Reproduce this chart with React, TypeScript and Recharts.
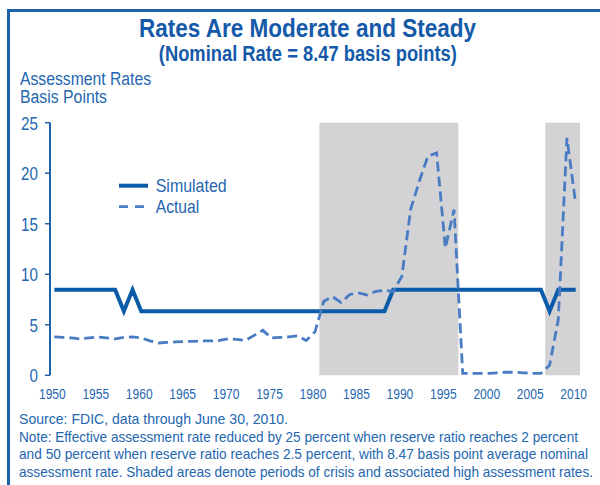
import { LineChart, Line, XAxis, YAxis, ReferenceArea } from 'recharts'

const years = [
  1950, 1951, 1952, 1953, 1954, 1955, 1956, 1957, 1958, 1959,
  1960, 1961, 1962, 1963, 1964, 1965, 1966, 1967, 1968, 1969,
  1970, 1971, 1972, 1973, 1974, 1975, 1976, 1977, 1978, 1979,
  1980, 1981, 1982, 1983, 1984, 1985, 1986, 1987, 1988, 1989,
  1990, 1991, 1992, 1993, 1994, 1995, 1996, 1997, 1998, 1999,
  2000, 2001, 2002, 2003, 2004, 2005, 2006, 2007, 2008, 2009,
  2010,
]

// basis points
const simulated = [
  8.47, 8.47, 8.47, 8.47, 8.47, 8.47, 8.47, 8.47, 6.35, 8.47,
  6.35, 6.35, 6.35, 6.35, 6.35, 6.35, 6.35, 6.35, 6.35, 6.35,
  6.35, 6.35, 6.35, 6.35, 6.35, 6.35, 6.35, 6.35, 6.35, 6.35,
  6.35, 6.35, 6.35, 6.35, 6.35, 6.35, 6.35, 6.35, 6.35, 8.47,
  8.47, 8.47, 8.47, 8.47, 8.47, 8.47, 8.47, 8.47, 8.47, 8.47,
  8.47, 8.47, 8.47, 8.47, 8.47, 8.47, 8.47, 6.35, 8.47, 8.47,
  8.47,
]

const actual = [
  3.8, 3.75, 3.7, 3.6, 3.7, 3.8, 3.7, 3.6, 3.75, 3.8,
  3.7, 3.4, 3.2, 3.25, 3.3, 3.35, 3.35, 3.4, 3.4, 3.45,
  3.6, 3.55, 3.45, 3.95, 4.45, 3.7, 3.75, 3.8, 3.9, 3.45,
  4.3, 7.3, 7.8, 7.2, 8.0, 8.15, 7.95, 8.3, 8.4, 8.3,
  9.8, 16.4, 19.2, 21.7, 22.0, 12.6, 16.4, 0.2, 0.2, 0.2,
  0.2, 0.25, 0.3, 0.3, 0.25, 0.2, 0.2, 1.0, 5.5, 23.5,
  17.0,
]

// crisis periods (inclusive years)
const crisisStart = [1981, 2007]
const crisisEnd = [1996, 2010]

const yTicks = [0, 5, 10, 15, 20, 25]
const labelYears = [1950, 1955, 1960, 1965, 1970, 1975, 1980, 1985, 1990, 1995, 2000, 2005, 2010]

const notes = [
  'Source: FDIC, data through June 30, 2010.',
  'Note: Effective assessment rate reduced by 25 percent when reserve ratio reaches 2 percent',
  'and 50 percent when reserve ratio reaches 2.5 percent, with 8.47 basis point average nominal',
  'assessment rate. Shaded areas denote periods of crisis and associated high assessment rates.',
]
const noteWidths = [269, 559, 569, 574]

const rows = years.map((year, i) => ({
  year,
  simulated: simulated[i],
  actual: actual[i],
}))
const boundaries = [...years.map((y) => y - 0.5), years[years.length - 1] + 0.5]
const xDomain = [boundaries[0], boundaries[boundaries.length - 1]]

const FONT = "'Liberation Sans', Arial, sans-serif"
const BLUE = '#1c61ab'
const TEXT = '#2466b0'
const TITLE = '#145aa8'
const SIM = '#0b5ba8'
const ACT = '#4a7cc3'

const XTick = ({ x, y, payload }: any) => (
  <g transform={`translate(${x - 2},${y}) scale(0.86,1)`}>
    <text x={0} y={0} dy="0.71em" textAnchor="middle" fill={TEXT} fontSize={14} fontFamily={FONT}>
      {payload.value}
    </text>
  </g>
)

const YTick = ({ x, y, payload }: any) => (
  <g transform={`translate(${x},${y}) scale(0.8,1)`}>
    <text x={0} y={0} dy="0.36em" textAnchor="end" fill={TEXT} fontSize={19} fontFamily={FONT}>
      {payload.value}
    </text>
  </g>
)

export default function App() {
  return (
    <div
      style={{
        position: 'absolute',
        left: 0,
        top: 0,
        width: 600,
        height: 485,
        overflow: 'hidden',
        background: '#fff',
      }}
    >
      <div
        style={{
          position: 'absolute',
          left: 7,
          top: 9,
          width: 620,
          height: 520,
          borderLeft: `3px solid ${BLUE}`,
          borderTop: `3px solid ${BLUE}`,
        }}
      />

      <LineChart
        width={600}
        height={485}
        data={rows}
        margin={{ top: 122.7, right: 20, bottom: 84.7, left: 5 }}
        style={{ position: 'absolute', left: 0, top: 0 }}
      >
        {crisisStart.map((s, i) => (
          <ReferenceArea
            key={s}
            xAxisId="b"
            x1={s - 0.5}
            x2={crisisEnd[i] + 0.5}
            y1={0}
            y2={25}
            fill="#d3d3d5"
            fillOpacity={1}
            stroke="none"
          />
        ))}
        <XAxis
          xAxisId="b"
          dataKey="year"
          type="number"
          domain={xDomain}
          ticks={boundaries}
          interval={0}
          tick={false}
          tickSize={6}
          height={0}
          axisLine={{ stroke: BLUE, strokeWidth: 2 }}
          tickLine={{ stroke: BLUE, strokeWidth: 1.5 }}
        />
        <XAxis
          xAxisId="l"
          dataKey="year"
          type="number"
          domain={xDomain}
          ticks={labelYears}
          interval={0}
          axisLine={false}
          tickLine={false}
          tickSize={0}
          tickMargin={14}
          height={25}
          tick={XTick}
        />
        <YAxis
          domain={[0, 25]}
          ticks={yTicks}
          interval={0}
          width={45}
          tickSize={5}
          tickMargin={7}
          axisLine={{ stroke: BLUE, strokeWidth: 2 }}
          tickLine={{ stroke: BLUE, strokeWidth: 1.5 }}
          tick={YTick}
        />
        <Line
          xAxisId="b"
          dataKey="simulated"
          type="linear"
          stroke={SIM}
          strokeWidth={4}
          dot={false}
          isAnimationActive={false}
        />
        <Line
          xAxisId="b"
          dataKey="actual"
          type="linear"
          stroke={ACT}
          strokeWidth={2.8}
          strokeDasharray="10 5"
          dot={false}
          isAnimationActive={false}
        />
      </LineChart>

      <svg
        width={600}
        height={485}
        style={{ position: 'absolute', left: 0, top: 0, pointerEvents: 'none' }}
        fontFamily={FONT}
      >
        <text x={139} y={36.7} textLength={337} lengthAdjust="spacingAndGlyphs" fontSize={25.5} fontWeight="bold" fill={TITLE}>
          Rates Are Moderate and Steady
        </text>
        <text x={158.8} y={60.7} textLength={298} lengthAdjust="spacingAndGlyphs" fontSize={22} fontWeight="bold" fill={TITLE}>
          (Nominal Rate = 8.47 basis points)
        </text>
        <text x={20} y={85} textLength={131} lengthAdjust="spacingAndGlyphs" fontSize={18} fill={TEXT}>
          Assessment Rates
        </text>
        <text x={20} y={103.3} textLength={87} lengthAdjust="spacingAndGlyphs" fontSize={18} fill={TEXT}>
          Basis Points
        </text>

        <line x1={119} y1={185.7} x2={148} y2={185.7} stroke={SIM} strokeWidth={4} />
        <line x1={119} y1={206.7} x2={148} y2={206.7} stroke={ACT} strokeWidth={2.8} strokeDasharray="9 7" />
        <text x={155.7} y={191.7} textLength={71} lengthAdjust="spacingAndGlyphs" fontSize={18.5} fill={TEXT}>
          Simulated
        </text>
        <text x={155.7} y={212.7} textLength={43.5} lengthAdjust="spacingAndGlyphs" fontSize={18.5} fill={TEXT}>
          Actual
        </text>

        {notes.map((n, i) => (
          <text
            key={i}
            x={19}
            y={424.2 + i * 17.5}
            textLength={noteWidths[i]}
            lengthAdjust="spacingAndGlyphs"
            fontSize={14.5}
            fill={TEXT}
          >
            {n}
          </text>
        ))}
      </svg>
    </div>
  )
}
